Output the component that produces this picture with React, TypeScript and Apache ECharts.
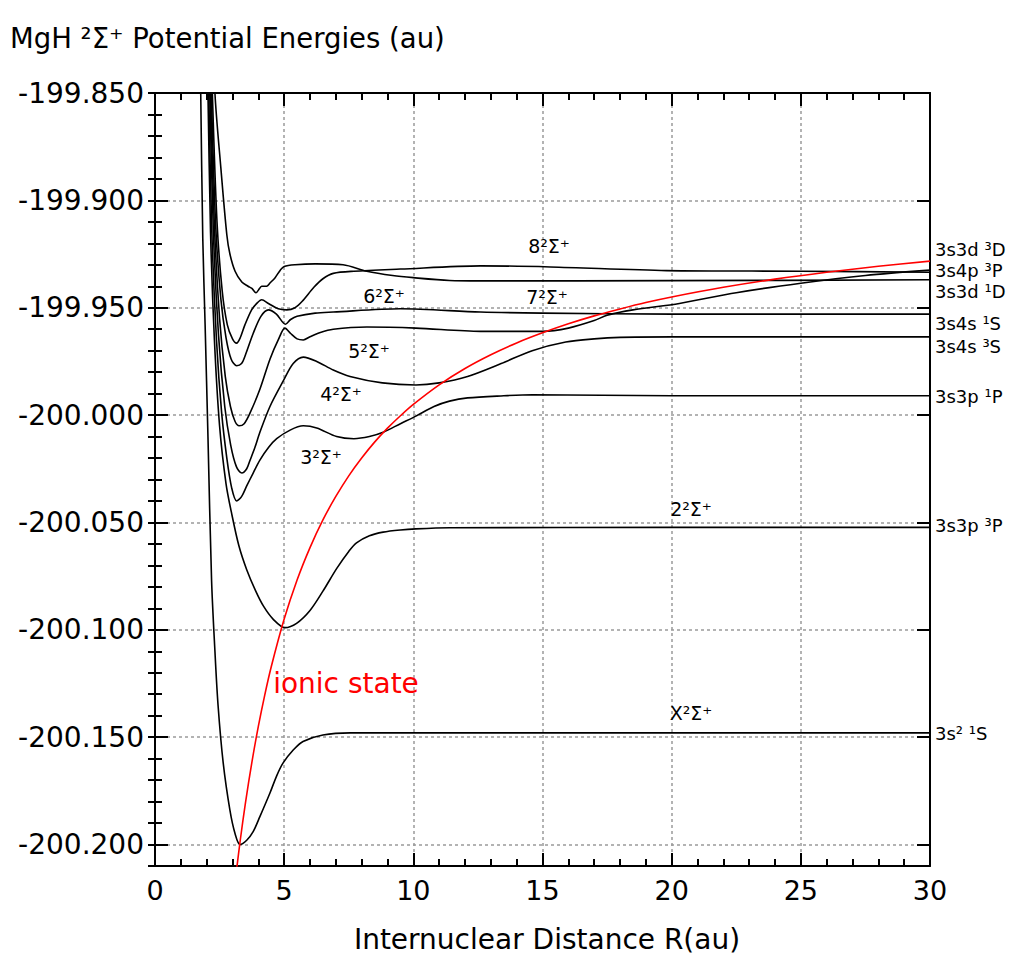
import React, { useEffect, useRef } from "react";
import * as echarts from "echarts";

// ---- data (R in au, E in au) ----
const groundX: [number, number][] = [
  [1.74, -199.82], [1.77, -199.85], [1.85, -199.918], [1.94, -199.958], [2.05, -200.01], [2.19, -200.077],
  [2.32, -200.11], [2.44, -200.135], [2.64, -200.162], [2.9, -200.184], [3.1, -200.195], [3.29, -200.2],
  [3.55, -200.198], [3.8, -200.194], [4.06, -200.187], [4.45, -200.176], [4.71, -200.168], [4.96, -200.162],
  [5.35, -200.156], [5.73, -200.152], [6.5, -200.149], [7.55, -200.148], [10, -200.148], [20, -200.148], [30, -200.148],
];
const state2: [number, number][] = [
  [2.0, -199.82], [2.05, -199.85], [2.15, -199.915], [2.3, -199.965], [2.5, -200.005], [2.75, -200.032],
  [2.97, -200.046], [3.25, -200.061], [3.55, -200.072], [3.9, -200.082], [4.2, -200.089], [4.57, -200.095],
  [5.03, -200.099], [5.48, -200.097], [6.0, -200.091], [6.5, -200.082], [7.03, -200.0715], [7.5, -200.0635],
  [7.8, -200.0595], [8.3, -200.0562], [8.83, -200.0545], [9.5, -200.0535], [10.1, -200.053], [11.4, -200.0525],
  [20, -200.0523], [30, -200.0523],
];
const state3: [number, number][] = [
  [2.03, -199.82], [2.08, -199.85], [2.2, -199.915], [2.38, -199.965], [2.58, -199.999], [2.78, -200.02],
  [2.97, -200.034], [3.16, -200.04], [3.35, -200.038], [3.55, -200.033], [3.8, -200.027], [4.06, -200.021],
  [4.4, -200.015], [4.71, -200.011], [5.23, -200.007], [5.74, -200.005], [6.26, -200.006], [7.03, -200.01],
  [7.7, -200.011], [8.3, -200.01], [8.83, -200.008], [9.5, -200.004], [10.1, -200.0005], [10.8, -199.996],
  [11.4, -199.9935], [12.1, -199.992], [13.5, -199.991], [14.6, -199.9905], [20, -199.991], [30, -199.991],
];
const state4: [number, number][] = [
  [2.07, -199.82], [2.12, -199.85], [2.26, -199.915], [2.46, -199.963], [2.7, -199.996], [2.93, -200.014],
  [3.15, -200.024], [3.36, -200.027], [3.55, -200.025], [3.68, -200.021], [3.87, -200.015], [4.06, -200.008],
  [4.45, -199.996], [4.97, -199.984], [5.35, -199.976], [5.74, -199.973], [6.26, -199.975], [6.9, -199.979],
  [7.55, -199.982], [8.8, -199.985], [10.1, -199.986], [11.0, -199.985], [12.1, -199.982], [13.4, -199.976],
  [14.6, -199.97], [15.9, -199.966], [17, -199.9645], [18, -199.9638], [20, -199.9636], [30, -199.9636],
];
const state5: [number, number][] = [
  [2.1, -199.82], [2.15, -199.85], [2.3, -199.912], [2.5, -199.955], [2.72, -199.982], [2.92, -199.996],
  [3.1, -200.003], [3.26, -200.005], [3.45, -200.004], [3.68, -199.999], [4.06, -199.988], [4.45, -199.974],
  [4.77, -199.965], [5.03, -199.9595], [5.25, -199.962], [5.5, -199.9645], [5.74, -199.965], [6.0, -199.9635],
  [6.4, -199.9615], [6.9, -199.96], [8.2, -199.959], [10.1, -199.9595], [12.6, -199.961], [15, -199.961],
  [16, -199.9595], [17, -199.956], [17.5, -199.9535], [18.5, -199.951], [20.3, -199.948], [22.5, -199.943],
  [25, -199.9386], [27.5, -199.935], [30, -199.9325],
];
const state6: [number, number][] = [
  [2.13, -199.82], [2.18, -199.85], [2.35, -199.912], [2.55, -199.946], [2.75, -199.964], [2.95, -199.974],
  [3.16, -199.977], [3.35, -199.976], [3.5, -199.972], [3.8, -199.962], [4.1, -199.954], [4.39, -199.951],
  [4.7, -199.953], [5.05, -199.9577], [5.25, -199.9555], [5.5, -199.954], [6.2, -199.9525], [6.9, -199.952],
  [9.5, -199.9505], [12.6, -199.952], [15, -199.9525], [20, -199.953], [30, -199.953],
];
const state7: [number, number][] = [
  [2.17, -199.82], [2.22, -199.85], [2.4, -199.91], [2.6, -199.942], [2.8, -199.958], [3.0, -199.9645],
  [3.16, -199.9665], [3.3, -199.964], [3.48, -199.958], [3.74, -199.951], [3.94, -199.948], [4.13, -199.9463],
  [4.39, -199.948], [4.77, -199.9505], [5.1, -199.951], [5.42, -199.95], [5.7, -199.947], [6.15, -199.9405],
  [6.5, -199.9365], [6.9, -199.934], [7.7, -199.933], [9.5, -199.932], [12.6, -199.9305], [15.3, -199.931],
  [19.8, -199.9327], [25, -199.933], [30, -199.9335],
];
const state8: [number, number][] = [
  [2.28, -199.82], [2.32, -199.85], [2.55, -199.885], [2.78, -199.916], [2.9, -199.925], [3.1, -199.933],
  [3.36, -199.938], [3.6, -199.94], [3.75, -199.941], [3.91, -199.943], [4.05, -199.941], [4.13, -199.94],
  [4.32, -199.94], [4.45, -199.9385], [4.65, -199.936], [4.85, -199.9325], [5.0, -199.9308], [5.42, -199.93],
  [6.2, -199.9296], [7.28, -199.93], [8.2, -199.933], [9.2, -199.935], [10, -199.936], [11.4, -199.9373],
  [12.6, -199.9375], [20, -199.9374], [30, -199.937],
];
const ionic: [number, number][] = [
  [3.14, -200.2135], [3.3, -200.198], [3.5, -200.1807], [3.75, -200.1617], [4.0, -200.145], [4.25, -200.1303],
  [4.5, -200.1172], [5.0, -200.095], [5.5, -200.0768], [6.0, -200.0617], [6.5, -200.0488], [7.0, -200.0379],
  [7.5, -200.0283], [8.0, -200.02], [8.5, -200.0126], [9.0, -200.0061], [9.5, -200.0003], [10, -199.995],
  [11, -199.9859], [12, -199.9783], [13, -199.9719], [14, -199.9664], [15, -199.9617], [16, -199.9575],
  [17, -199.9538], [18, -199.9506], [19, -199.9476], [20, -199.945], [22, -199.9405], [24, -199.9367],
  [26, -199.9335], [28, -199.9307], [30, -199.9283],
];

const covalentStates = [groundX, state2, state3, state4, state5, state6, state7, state8];
const stateLabels = ["X²Σ⁺", "2²Σ⁺", "3²Σ⁺", "4²Σ⁺", "5²Σ⁺", "6²Σ⁺", "7²Σ⁺", "8²Σ⁺"];
const atomLabels = ["3s² ¹S", "3s3p ³P", "3s3p ¹P", "3s4s ³S", "3s4s ¹S", "3s3d ¹D", "3s4p ³P", "3s3d ³D"];

const X_MIN = 0, X_MAX = 30, X_STEP = 5;
const Y_MIN = -200.21, Y_MAX = -199.85, Y_STEP = 0.05, Y_MINOR = 0.01;

// ---- layout (pixels) ----
const stateLabelPos: [number, number][] = [
  [691, 713], [691, 509], [321, 457], [341, 394], [369, 351], [384, 296], [547, 297], [549, 246],
];
const atomLabelY = [733, 525, 396, 346, 323, 291, 270, 249];

const FONT = '"DejaVu Sans", Verdana, sans-serif';

function txt(text: string, x: number, y: number, size: number, align: string, color = "#000") {
  return {
    type: "text",
    x,
    y,
    z: 100,
    style: {
      text,
      fill: color,
      fontSize: size,
      fontFamily: FONT,
      align,
      verticalAlign: "middle",
      textAlign: align,
      textVerticalAlign: "middle",
    },
  };
}

export default function App() {
  const ref = useRef<HTMLDivElement>(null);
  useEffect(() => {
    document.body.style.margin = "0";
    const chart = echarts.init(ref.current!, null, { renderer: "svg" });
    const axisLine = { show: true, onZero: false, lineStyle: { color: "#000", width: 2 } };
    const split = { show: true, lineStyle: { color: "#9a9a9a", width: 1.5, type: [3, 3] } };
    const xBase = { type: "value", min: X_MIN, max: X_MAX, interval: X_STEP };
    const yBase = { type: "value", min: Y_MIN, max: Y_MAX };
    const majorTick = { show: true, inside: true, length: 13, lineStyle: { color: "#000", width: 2 } };
    const minorTickStyle = { show: true, splitNumber: 5, length: 7, lineStyle: { color: "#000", width: 2 } };
    const option: any = {
      animation: false,
      backgroundColor: "#fff",
      grid: { left: 155, right: 84, top: 93, bottom: 88, containLabel: false },
      xAxis: [
        {
          ...xBase,
          position: "bottom",
          axisLine,
          axisTick: majorTick,
          minorTick: minorTickStyle,
          axisLabel: { show: true, fontSize: 27, fontFamily: FONT, color: "#000", margin: 11 },
          splitLine: split,
        },
        {
          ...xBase,
          position: "top",
          axisLine,
          axisTick: majorTick,
          minorTick: minorTickStyle,
          axisLabel: { show: false },
          splitLine: { show: false },
        },
      ],
      yAxis: [
        {
          ...yBase,
          position: "left",
          splitNumber: 7,
          minInterval: Y_STEP,
          maxInterval: Y_STEP,
          axisLine,
          axisTick: majorTick,
          axisLabel: {
            show: true, fontSize: 28, fontFamily: FONT, color: "#000", margin: 11,
            showMinLabel: false,
            formatter: (v: number) => v.toFixed(3),
          },
          splitLine: { ...split, showMinLine: false, showMaxLine: false },
        },
        {
          ...yBase,
          position: "left",
          interval: Y_MINOR,
          axisLine: { show: false },
          axisTick: { show: true, inside: true, length: 7, lineStyle: { color: "#000", width: 2 } },
          axisLabel: { show: false },
          splitLine: { show: false },
        },
        {
          ...yBase,
          position: "right",
          splitNumber: 7,
          minInterval: Y_STEP,
          maxInterval: Y_STEP,
          axisLine,
          axisTick: majorTick,
          axisLabel: { show: false },
          splitLine: { show: false },
        },
        {
          ...yBase,
          position: "right",
          interval: Y_MINOR,
          axisLine: { show: false },
          axisTick: { show: true, inside: true, length: 7, lineStyle: { color: "#000", width: 2 } },
          axisLabel: { show: false },
          splitLine: { show: false },
        },
      ],
      series: [
        ...covalentStates.map((d, i) => ({
          type: "line",
          name: stateLabels[i],
          data: d,
          xAxisIndex: 0,
          yAxisIndex: 0,
          showSymbol: false,
          symbol: "none",
          smooth: 0.3,
          clip: true,
          lineStyle: { color: "#000", width: 1.6 },
          z: 3,
        })),
        {
          type: "line",
          name: "ionic state",
          data: ionic,
          xAxisIndex: 0,
          yAxisIndex: 0,
          showSymbol: false,
          symbol: "none",
          smooth: 0.3,
          clip: true,
          lineStyle: { color: "#ff0000", width: 1.6 },
          z: 4,
        },
      ],
      graphic: [
        txt("MgH ²Σ⁺ Potential Energies (au)", 10, 38, 27.5, "left"),
        txt("Internuclear Distance R(au)", 547, 939, 28, "center"),
        txt("ionic state", 346, 683, 28, "center", "#ff0000"),
        ...stateLabels.map((s, i) => txt(s, stateLabelPos[i][0], stateLabelPos[i][1], 19, "center")),
        ...atomLabels.map((s, i) => txt(s, 935, atomLabelY[i], 18, "left")),
      ],
    };
    chart.setOption(option);
    return () => chart.dispose();
  }, []);
  return <div ref={ref} style={{ width: 1014, height: 954 }} />;
}
